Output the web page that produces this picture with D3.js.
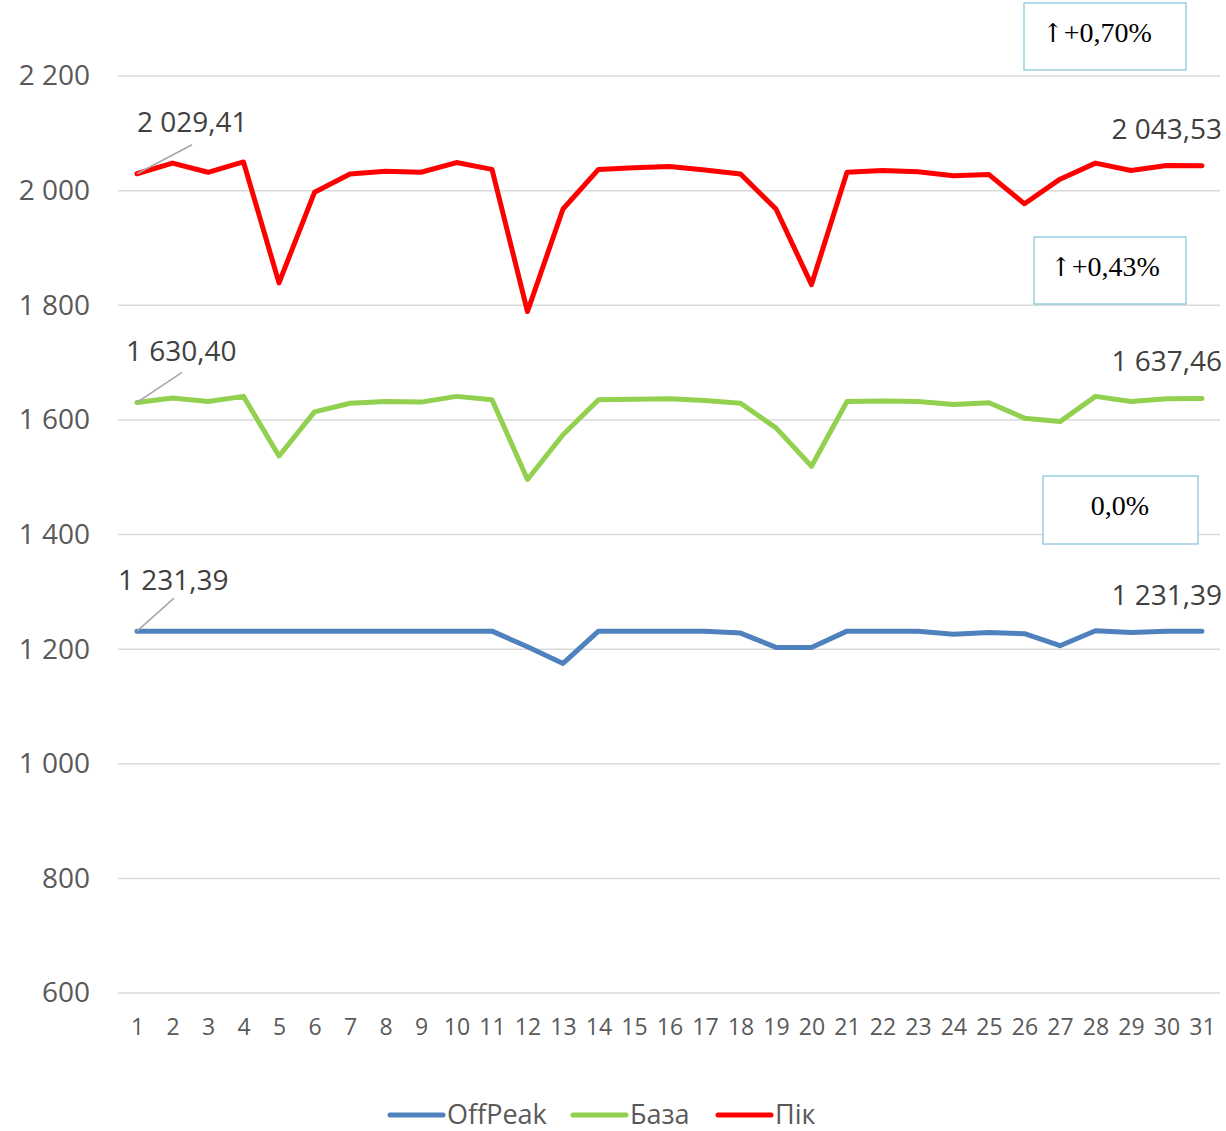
<!DOCTYPE html>
<html>
<head>
<meta charset="utf-8">
<script src="https://cdn.jsdelivr.net/npm/d3@7"></script>
<style>
  body { margin: 0; background: #fff; }
  svg { font-family: "Open Sans", sans-serif; }
</style>
</head>
<body>
<div id="chart"></div>
<script>
// Days of month
const days = d3.range(1, 32);

// Series values (UAH/MWh)
const offPeak = [1231.39, 1231.39, 1231.39, 1231.39, 1231.39, 1231.39, 1231.39, 1231.39, 1231.39, 1231.39,
  1231.39, 1204, 1175, 1231.39, 1231.39, 1231.39, 1231.39, 1228, 1203, 1203,
  1231.39, 1231.39, 1231, 1226, 1229, 1227, 1206, 1232, 1229, 1231, 1231.39];
const baza = [1630.40, 1638, 1632, 1641, 1537, 1614, 1629, 1632, 1631, 1641,
  1635, 1496, 1574, 1635, 1636, 1637, 1634, 1629, 1586, 1519,
  1632, 1633, 1632, 1627, 1630, 1603, 1597, 1641, 1632, 1637, 1637.46];
const pik = [2029.41, 2048, 2032, 2050, 1839, 1997, 2029, 2034, 2032, 2049,
  2037, 1789, 1968, 2037, 2040, 2042, 2036, 2029, 1968, 1836,
  2032, 2035, 2033, 2026, 2028, 1977, 2020, 2048, 2035, 2044, 2043.53];

const seriesNames = ["OffPeak", "База", "Пік"];
const seriesColors = ["#4F81BD", "#92D050", "#FF0000"];
const yTicks = [600, 800, 1000, 1200, 1400, 1600, 1800, 2000, 2200];
const changeArrows = ["↑", "↑", ""];
const changeLabels = ["+0,70%", "+0,43%", "0,0%"];

const width = 1226, height = 1131;
const margin = { left: 118, right: 6, top: 76, bottom: 138 };

const fmt = v => d3.format(",.2f")(v).replace(/,/g, " ").replace(".", ",");
const fmtTick = v => d3.format(",")(v).replace(/,/g, " ");

const svg = d3.select("#chart").append("svg")
  .attr("width", width)
  .attr("height", height);

//#region scales
const x = d3.scalePoint()
  .domain(days)
  .range([137, 1202]);
const y = d3.scaleLinear()
  .domain([600, 2200])
  .range([993, 76]);
//#endregion

//#region grid + axes
svg.append("g")
  .selectAll("line")
  .data(yTicks)
  .join("line")
  .attr("x1", margin.left)
  .attr("x2", 1220)
  .attr("y1", d => y(d))
  .attr("y2", d => y(d))
  .attr("stroke", "#D9D9D9")
  .attr("stroke-width", 1.5);

const yAxis = svg.append("g")
  .attr("transform", "translate(90,0)")
  .call(d3.axisLeft(y).tickValues(yTicks).tickFormat(fmtTick).tickSize(0).tickPadding(0));
yAxis.select(".domain").remove();
yAxis.selectAll("text")
  .attr("fill", "#595959")
  .style("font-size", "28px")
  .style("font-family", "Open Sans");

const xAxis = svg.append("g")
  .attr("transform", "translate(0,1027)")
  .call(d3.axisBottom(x).tickSize(0).tickPadding(0));
xAxis.select(".domain").remove();
xAxis.selectAll("text")
  .attr("fill", "#595959")
  .attr("dy", "0.35em")
  .style("font-size", "23px")
  .style("font-family", "Open Sans");
//#endregion

//#region lines
const allSeries = [offPeak, baza, pik];
const line = d3.line()
  .x((d, i) => x(days[i]))
  .y(d => y(d));

svg.append("g")
  .selectAll("path")
  .data(allSeries)
  .join("path")
  .attr("d", d => line(d))
  .attr("fill", "none")
  .attr("stroke", (d, i) => seriesColors[i])
  .attr("stroke-width", 5)
  .attr("stroke-linejoin", "round")
  .attr("stroke-linecap", "round");
//#endregion

//#region data labels with leader lines
const labelOffsets = [
  { s: offPeak, sx: -19, sy: -51, lx: 37, ly: -33, ey: -36 },
  { s: baza, sx: -11, sy: -51, lx: 45, ly: -30, ey: -37 },
  { s: pik, sx: 0, sy: -52, lx: 55, ly: -29, ey: -36 }
];
labelOffsets.forEach(o => {
  const x0 = x(1), y0 = y(o.s[0]);
  svg.append("line")
    .attr("x1", x0).attr("y1", y0)
    .attr("x2", x0 + o.lx).attr("y2", y0 + o.ly)
    .attr("stroke", "#A6A6A6")
    .attr("stroke-width", 1.5);
  svg.append("text")
    .attr("x", x0 + o.sx)
    .attr("y", y0 + o.sy)
    .attr("dy", "0.35em")
    .attr("fill", "#404040")
    .style("font-size", "28px")
    .text(fmt(o.s[0]));
  const last = o.s[o.s.length - 1];
  svg.append("text")
    .attr("x", 1222)
    .attr("y", y(last) + o.ey)
    .attr("dy", "0.35em")
    .attr("text-anchor", "end")
    .attr("fill", "#404040")
    .style("font-size", "28px")
    .text(fmt(last));
});
//#endregion

//#region change boxes
const boxes = [
  { x: 1024, y: 3, w: 162, h: 67, tx: 1042, anchor: "start" },
  { x: 1034, y: 237, w: 152, h: 67, tx: 1050, anchor: "start" },
  { x: 1043, y: 476, w: 155, h: 68, tx: 1120, anchor: "middle" }
];
boxes.forEach((b, i) => {
  svg.append("rect")
    .attr("x", b.x).attr("y", b.y)
    .attr("width", b.w).attr("height", b.h)
    .attr("fill", "#fff")
    .attr("stroke", "#7FC3D8")
    .attr("stroke-width", 1.2);
  const t = svg.append("text")
    .attr("x", b.tx)
    .attr("y", b.y + 39)
    .attr("text-anchor", b.anchor)
    .attr("fill", "#000")
    .style("font-family", "Liberation Serif")
    .style("font-size", "28px");
  if (changeArrows[i]) {
    t.append("tspan")
      .style("font-family", "DejaVu Serif")
      .style("font-size", "26px")
      .text(changeArrows[i]);
    t.append("tspan").text(changeLabels[i]);
  } else {
    t.text(changeLabels[i]);
  }
});
//#endregion

//#region legend
const legendX = [390, 573, 718];
const legend = svg.append("g").attr("transform", "translate(0,1115)");
const items = legend.selectAll("g")
  .data(seriesNames)
  .join("g")
  .attr("transform", (d, i) => `translate(${legendX[i]},0)`);
items.append("line")
  .attr("x1", 0).attr("x2", 53)
  .attr("stroke", (d, i) => seriesColors[i])
  .attr("stroke-width", 5)
  .attr("stroke-linecap", "round");
items.append("text")
  .attr("x", 57)
  .attr("dy", "0.35em")
  .attr("fill", "#595959")
  .style("font-size", "27px")
  .text(d => d);
//#endregion
</script>
</body>
</html>
